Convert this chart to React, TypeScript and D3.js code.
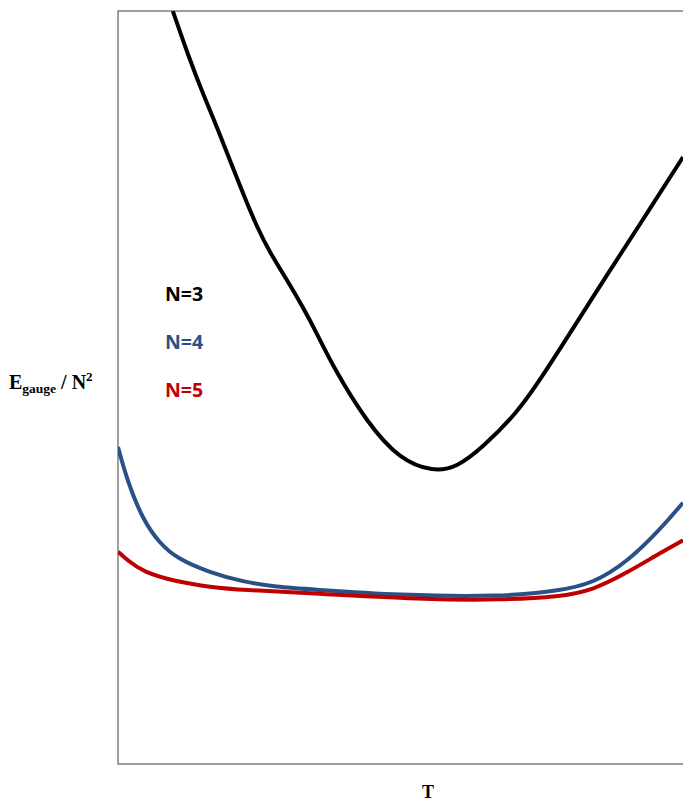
import * as d3 from 'd3';
import { useEffect, useRef } from 'react';

// T values (0..1 across the visible plot) and E_gauge / N^2 (0..1 bottom to top)
const tN3 = [0.097, 0.127, 0.15, 0.175, 0.198, 0.221, 0.246, 0.269, 0.299, 0.327, 0.352, 0.381, 0.441, 0.499, 0.558, 0.6, 0.646, 0.706, 0.747, 0.805, 0.865, 0.924, 1.0];
const eN3 = [1.0, 0.935, 0.891, 0.846, 0.802, 0.758, 0.713, 0.679, 0.643, 0.607, 0.572, 0.527, 0.453, 0.404, 0.388, 0.394, 0.421, 0.466, 0.51, 0.578, 0.649, 0.717, 0.806];

const tN4 = [0, 0.016, 0.044, 0.074, 0.104, 0.163, 0.221, 0.281, 0.34, 0.499, 0.676, 0.782, 0.841, 0.901, 0.959, 1.0];
const eN4 = [0.421, 0.377, 0.324, 0.293, 0.273, 0.254, 0.242, 0.235, 0.232, 0.224, 0.222, 0.23, 0.24, 0.268, 0.311, 0.347];

const tN5 = [0, 0.016, 0.044, 0.104, 0.163, 0.221, 0.34, 0.558, 0.676, 0.782, 0.841, 0.901, 0.959, 1.0];
const eN5 = [0.282, 0.271, 0.255, 0.242, 0.235, 0.231, 0.227, 0.218, 0.218, 0.222, 0.231, 0.254, 0.28, 0.297];

const seriesNames = ['N=3', 'N=4', 'N=5'];
const seriesColors = ['#000000', '#2a5185', '#c00000'];

const W = 683;
const H = 801;
const left = 118;
const top = 11;
const bottom = 764;

const App = () => {
    const svgRef = useRef(null);

    useEffect(() => {
        const svg = d3.select(svgRef.current);
        const x = d3.scaleLinear().domain([0, 1]).range([left, W]);
        const y = d3.scaleLinear().domain([0, 1]).range([bottom, top]);

        svg.append('defs').append('clipPath').attr('id', 'plot')
            .append('rect').attr('x', left).attr('y', top).attr('width', W + 20 - left).attr('height', bottom - top);

        // frame (top, left, bottom)
        svg.append('path')
            .attr('d', `M${W + 20},${top}H${left}V${bottom}H${W + 20}`)
            .attr('fill', 'none')
            .attr('stroke', '#7f7f7f')
            .attr('stroke-width', 1.5);

        const line = d3.line<[number, number]>()
            .x(d => x(d[0]))
            .y(d => y(d[1]))
            .curve(d3.curveBasis);

        const series = [
            d3.zip(tN3, eN3),
            d3.zip(tN4, eN4),
            d3.zip(tN5, eN5),
        ];

        svg.append('g').attr('clip-path', 'url(#plot)')
            .selectAll('path')
            .data(series)
            .enter()
            .append('path')
            .attr('d', d => line(d as [number, number][]))
            .attr('fill', 'none')
            .attr('stroke', (d, i) => seriesColors[i])
            .attr('stroke-width', 4)
            .attr('stroke-linecap', 'butt');

        svg.selectAll('text.legend')
            .data(seriesNames)
            .enter()
            .append('text')
            .attr('class', 'legend')
            .attr('x', 165)
            .attr('y', (d, i) => 301 + i * 48)
            .attr('font-family', '"Open Sans", "DejaVu Sans", sans-serif')
            .attr('font-weight', 'bold')
            .attr('font-size', 19.5)
            .attr('fill', (d, i) => seriesColors[i])
            .text(d => d);

        const yl = svg.append('text')
            .attr('x', 9)
            .attr('y', 389)
            .attr('font-family', '"Liberation Serif", "Times New Roman", serif')
            .attr('font-weight', 'bold')
            .attr('font-size', 20)
            .attr('fill', '#000');
        yl.append('tspan').text('E');
        yl.append('tspan').attr('font-size', 13.5).attr('dy', 4).text('gauge');
        yl.append('tspan').attr('dy', -4).text(' / N');
        yl.append('tspan').attr('font-size', 13).attr('dy', -8).text('2');

        svg.append('text')
            .attr('x', 428)
            .attr('y', 798)
            .attr('text-anchor', 'middle')
            .attr('font-family', '"Liberation Serif", "Times New Roman", serif')
            .attr('font-weight', 'bold')
            .attr('font-size', 18)
            .attr('fill', '#000')
            .text('T');

        return () => {
            svg.selectAll('*').remove();
        };
    }, []);

    return (
        <div style={{ position: 'absolute', left: 0, top: 0 }}>
            <svg ref={svgRef} width={W} height={H} style={{ display: 'block', background: '#fff' }}></svg>
        </div>
    );
};

export default App;
